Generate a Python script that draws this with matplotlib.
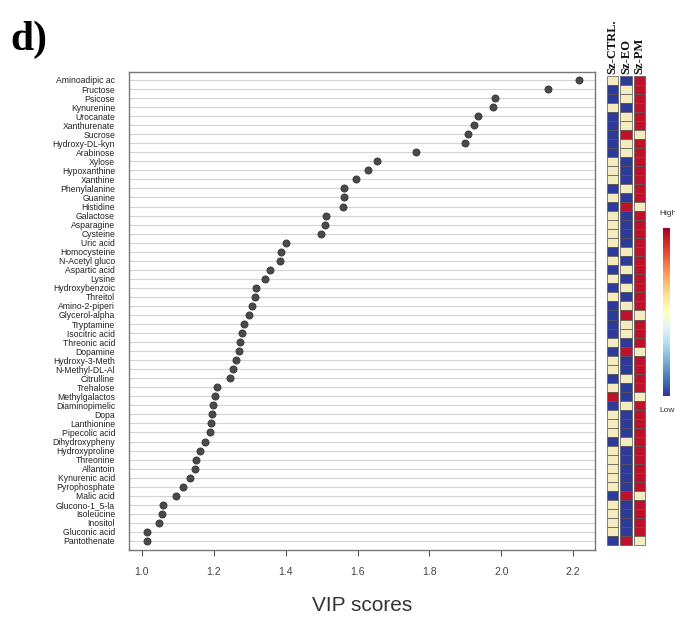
import matplotlib
matplotlib.use("Agg")
import matplotlib.pyplot as plt
import numpy as np
from matplotlib.colors import ListedColormap
from matplotlib.cm import ScalarMappable
from matplotlib.colors import Normalize

metabolites = [
    "Aminoadipic ac", "Fructose", "Psicose", "Kynurenine", "Urocanate",
    "Xanthurenate", "Sucrose", "Hydroxy-DL-kyn", "Arabinose", "Xylose",
    "Hypoxanthine", "Xanthine", "Phenylalanine", "Guanine", "Histidine",
    "Galactose", "Asparagine", "Cysteine", "Uric acid", "Homocysteine",
    "N-Acetyl gluco", "Aspartic acid", "Lysine", "Hydroxybenzoic", "Threitol",
    "Amino-2-piperi", "Glycerol-alpha", "Tryptamine", "Isocitric acid",
    "Threonic acid", "Dopamine", "Hydroxy-3-Meth", "N-Methyl-DL-Al",
    "Citrulline", "Trehalose", "Methylgalactos", "Diaminopimelic", "Dopa",
    "Lanthionine", "Pipecolic acid", "Dihydroxypheny", "Hydroxyproline",
    "Threonine", "Allantoin", "Kynurenic acid", "Pyrophosphate", "Malic acid",
    "Glucono-1_5-la", "Isoleucine", "Inositol", "Gluconic acid", "Pantothenate",
]

vip_scores = [
    2.217, 2.131, 1.983, 1.978, 1.936, 1.925, 1.908, 1.900, 1.763, 1.655,
    1.630, 1.596, 1.563, 1.563, 1.560, 1.513, 1.510, 1.499, 1.400, 1.387,
    1.384, 1.357, 1.343, 1.318, 1.315, 1.306, 1.298, 1.284, 1.279, 1.273,
    1.270, 1.262, 1.253, 1.245, 1.209, 1.203, 1.198, 1.195, 1.192, 1.189,
    1.175, 1.162, 1.150, 1.148, 1.134, 1.114, 1.095, 1.058, 1.056, 1.047,
    1.014, 1.014,
]

groups = ["Sz-CTRL.", "Sz-EO", "Sz-PM"]

# relative level per group: 1 = high, 0 = middle, -1 = low
level_ctrl = [0, -1, -1, 0, -1, -1, -1, -1, -1, 0, 0, 0, -1, 0, -1, 0, 0, 0, 0, -1,
              0, -1, 0, -1, 0, -1, -1, -1, -1, 0, -1, 0, 0, -1, 0, 1, -1, 0, 0, 0,
              -1, 0, 0, 0, 0, 0, -1, 0, 0, 0, 0, -1]
level_eo = [-1, 0, 0, -1, 0, 0, 1, 0, 0, -1, -1, -1, 0, -1, 1, -1, -1, -1, -1, 0,
            -1, 0, -1, 0, -1, 0, 1, 0, 0, -1, 1, -1, -1, 0, -1, -1, 0, -1, -1, -1,
            0, -1, -1, -1, -1, -1, 1, -1, -1, -1, -1, 1]
level_pm = [1, 1, 1, 1, 1, 1, 0, 1, 1, 1, 1, 1, 1, 1, 0, 1, 1, 1, 1, 1,
            1, 1, 1, 1, 1, 1, 0, 1, 1, 1, 0, 1, 1, 1, 1, 0, 1, 1, 1, 1,
            1, 1, 1, 1, 1, 1, 0, 1, 1, 1, 1, 0]

level_colors = {1: "#bf1129", 0: "#f4ebbe", -1: "#2d3a9a"}

W, H = 675, 619
fig = plt.figure(figsize=(W / 100, H / 100), dpi=100)

def fx(px):
    return px / W

def fy(py):
    return 1 - py / H

n = len(metabolites)
ypos = np.arange(n)
ylim = (n - 1 + 1.0, -0.885)

# main dot plot
ax = fig.add_axes([fx(129), fy(550), fx(595) - fx(129), fy(72) - fy(550)])
for y in ypos:
    ax.axhline(y, color="#d4d4d4", lw=0.8, zorder=1)
ax.scatter(vip_scores, ypos, s=26, color="#4a4a4a", edgecolors="#333333",
           linewidths=0.6, zorder=3)
ax.set_xlim(0.964, 2.261)
ax.set_ylim(*ylim)
ax.set_yticks(ypos)
ax.set_yticklabels(metabolites, fontsize=6.2, family="Liberation Sans", color="#222222")
ax.tick_params(axis="y", length=0, pad=10)
ax.set_xticks([1.0, 1.2, 1.4, 1.6, 1.8, 2.0, 2.2])
ax.set_xticklabels(["1.0", "1.2", "1.4", "1.6", "1.8", "2.0", "2.2"],
                   fontsize=7.5, family="Liberation Sans", color="#444444")
ax.tick_params(axis="x", length=4, width=0.8, color="#555555", pad=8, direction="out")
for sp in ax.spines.values():
    sp.set_color("#777777")
    sp.set_linewidth(1.0)
ax.set_xlabel("VIP scores", fontsize=15, family="Liberation Sans", color="#333333",
              labelpad=14)

# heatmap
hax = fig.add_axes([fx(606), fy(550), fx(646) - fx(606), fy(72) - fy(550)])
for j, lv in enumerate([level_ctrl, level_eo, level_pm]):
    hax.barh(ypos, 0.86, left=j + 0.07, height=1.0,
             color=[level_colors[v] for v in lv], edgecolor="#555555", linewidth=0.5)
hax.set_xlim(0, 3)
hax.set_ylim(n - 0.5 + 0.0, -0.5)
hax.set_ylim(*ylim)
hax.set_ylim(n - 0.5, -0.5)
hax.axis("off")
# align heatmap vertically with rows: rows centers 80 -> 541 px
hax.set_position([fx(606), fy(545.5), fx(646) - fx(606), fy(75.5) - fy(545.5)])
for j, g in enumerate(groups):
    hax.text(j + 0.5, -0.7, g, rotation=90, ha="center", va="bottom",
             fontsize=9, family="Liberation Serif", fontweight="bold",
             color="#111111")

# colorbar
cax = fig.add_axes([fx(663), fy(396), fx(670) - fx(663), fy(228) - fy(396)])
cb = fig.colorbar(ScalarMappable(norm=Normalize(-1, 1), cmap="RdYlBu_r"), cax=cax)
cb.set_ticks([])
cb.outline.set_visible(False)
fig.text(fx(659), fy(213), "High", fontsize=6, family="Liberation Sans",
         color="#333333", va="center", ha="left")
fig.text(fx(659), fy(411), "Low", fontsize=6, family="Liberation Sans",
         color="#333333", va="center", ha="left")

fig.text(fx(10), fy(40), "d)", fontsize=30, family="Liberation Serif",
         fontweight="bold", va="center", ha="left", color="black")

fig.savefig("out.png", dpi=100)
